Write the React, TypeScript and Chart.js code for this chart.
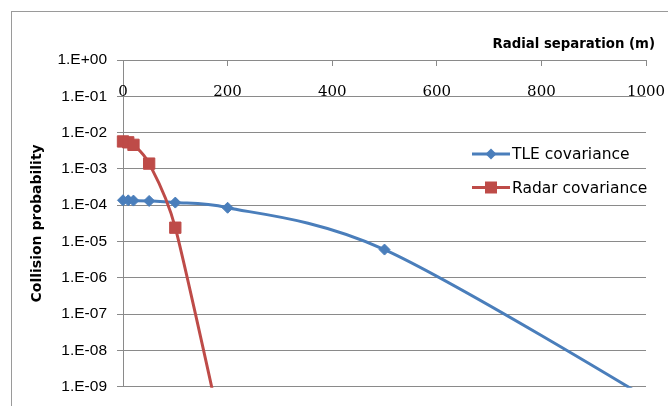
import React, { useEffect, useRef } from 'react';
import { Chart, registerables } from 'chart.js';

Chart.register(...registerables);

// ---- data ----
const tleSeparations = [0, 10, 20, 50, 100, 200, 500, 1000];
const tleProbability = [1.37e-4, 1.36e-4, 1.34e-4, 1.31e-4, 1.18e-4, 8.5e-5, 6.0e-6, 5e-10];
const radarSeparations = [0, 10, 20, 50, 100, 200];
const radarProbability = [5.7e-3, 5.4e-3, 4.6e-3, 1.4e-3, 2.4e-5, 1e-11];

const xTickValues = [0, 200, 400, 600, 800, 1000];
const xTickLabels = ['0', '200', '400', '600', '800', '1000'];
const yTickValues = [1e-9, 1e-8, 1e-7, 1e-6, 1e-5, 1e-4, 1e-3, 1e-2, 1e-1, 1];
const yTickLabels = ['1.E-09', '1.E-08', '1.E-07', '1.E-06', '1.E-05', '1.E-04', '1.E-03', '1.E-02', '1.E-01', '1.E+00'];

const seriesNames = ['TLE covariance', 'Radar covariance'];
const xTitle = 'Radial separation (m)';
const yTitle = 'Collision probability';

// ---- styles ----
const BLUE = '#4A7EBB';
const RED = '#BE4B48';
const GRID = '#8a8a8a';
const FRAME = '#9a9a9a';

// Excel-like smoothing of the line through the points the scales placed
function applyExcelSmoothing(chart: any) {
  chart.data.datasets.forEach((_: any, di: number) => {
    const meta = chart.getDatasetMeta(di);
    const pts = meta.data;
    const n = pts.length;
    for (let i = 0; i < n; i++) {
      const p = pts[i];
      if (i === 0 || i === n - 1) {
        p.cp1x = p.x;
        p.cp1y = p.y;
        p.cp2x = p.x;
        p.cp2y = p.y;
        continue;
      }
      const a = pts[i - 1];
      const b = pts[i + 1];
      const d01 = Math.hypot(p.x - a.x, p.y - a.y);
      const d12 = Math.hypot(b.x - p.x, b.y - p.y);
      const d02 = Math.hypot(b.x - a.x, b.y - a.y);
      let f = 1 / 6;
      if (d02 > 0 && (d02 * f > d01 / 2 || d02 * f > d12 / 2)) {
        f = Math.min(d01, d12) / (2 * d02);
      }
      const dx = (b.x - a.x) * f;
      const dy = (b.y - a.y) * f;
      p.cp1x = p.x - dx;
      p.cp1y = p.y - dy;
      p.cp2x = p.x + dx;
      p.cp2y = p.y + dy;
    }
    if (meta.dataset) {
      meta.dataset._pointsUpdated = true;
      meta.dataset._path = undefined;
      meta.dataset.updateControlPoints = () => {};
    }
  });
}

const decorPlugin = {
  id: 'decor',
  beforeDraw(chart: any) {
    const ctx = chart.ctx;
    ctx.save();
    ctx.fillStyle = '#ffffff';
    ctx.fillRect(0, 0, chart.width, chart.height);
    ctx.strokeStyle = FRAME;
    ctx.lineWidth = 1;
    ctx.strokeRect(11.5, 11.5, chart.width + 20, chart.height + 20);
    ctx.restore();
  },
  beforeDatasetsDraw(chart: any) {
    applyExcelSmoothing(chart);
  },
  afterDraw(chart: any) {
    const ctx = chart.ctx;
    const xs = chart.scales.x;
    ctx.save();
    // x tick labels (inside plot, under the top axis)
    ctx.fillStyle = '#000';
    ctx.font = '15px "DejaVu Serif"';
    ctx.textAlign = 'center';
    ctx.textBaseline = 'alphabetic';
    xTickValues.forEach((v, i) => {
      ctx.fillText(xTickLabels[i], xs.getPixelForValue(v), xs.bottom + 36);
    });

    // x axis title (top right)
    ctx.font = 'bold 13.3px "DejaVu Sans"';
    ctx.textAlign = 'right';
    ctx.fillText(xTitle, xs.right + 9, 48);

    // legend
    const items = [
      { name: seriesNames[0], color: BLUE, style: 'diamond', y: 154 },
      { name: seriesNames[1], color: RED, style: 'square', y: 187.5 },
    ];
    items.forEach((it) => {
      ctx.strokeStyle = it.color;
      ctx.lineWidth = 3;
      ctx.beginPath();
      ctx.moveTo(472, it.y);
      ctx.lineTo(510, it.y);
      ctx.stroke();
      ctx.fillStyle = it.color;
      ctx.beginPath();
      if (it.style === 'diamond') {
        const r = 5.5;
        ctx.moveTo(491, it.y - r);
        ctx.lineTo(491 + r, it.y);
        ctx.lineTo(491, it.y + r);
        ctx.lineTo(491 - r, it.y);
        ctx.closePath();
      } else {
        ctx.rect(485, it.y - 6, 12, 12);
      }
      ctx.fill();
      ctx.fillStyle = '#000';
      ctx.font = '15.5px "DejaVu Sans"';
      ctx.textAlign = 'left';
      ctx.textBaseline = 'middle';
      ctx.fillText(it.name, 512, it.y + 1);
    });
    ctx.restore();
  },
};

export default function App() {
  const ref = useRef<HTMLCanvasElement | null>(null);

  useEffect(() => {
    if (!ref.current) return;
    const common = {
      borderWidth: 3,
      pointBorderWidth: 1,
      tension: 0.33,
      cubicInterpolationMode: 'default',
      capBezierPoints: false,
      fill: false,
      clip: { left: 12, right: 12, top: 12, bottom: 1 },
    };
    const chart = new Chart(ref.current, {
      type: 'line',
      data: {
        datasets: [
          {
            ...common,
            label: seriesNames[0],
            data: tleSeparations.map((x, i) => ({ x, y: tleProbability[i] })),
            borderColor: BLUE,
            backgroundColor: BLUE,
            pointStyle: 'rectRot',
            pointRadius: 5.5,
            pointBorderColor: BLUE,
            pointBackgroundColor: BLUE,
            order: 2,
          } as any,
          {
            ...common,
            label: seriesNames[1],
            data: radarSeparations.map((x, i) => ({ x, y: radarProbability[i] })),
            borderColor: RED,
            backgroundColor: RED,
            pointStyle: 'rect',
            pointRadius: 8,
            pointBorderColor: RED,
            pointBackgroundColor: RED,
            order: 1,
          } as any,
        ],
      },
      options: {
        animation: false,
        responsive: false,
        devicePixelRatio: 1,
        layout: { padding: { left: 0, top: 0, right: 22, bottom: 12 } },
        plugins: {
          legend: { display: false },
          tooltip: { enabled: false },
          title: { display: false },
        },
        scales: {
          x: {
            type: 'linear',
            position: 'top',
            min: 0,
            max: 1000,
            afterBuildTicks: (s: any) => {
              s.ticks = xTickValues.map((v) => ({ value: v }));
            },
            afterFit: (s: any) => {
              s.height = 60;
            },
            ticks: { display: false },
            grid: {
              drawOnChartArea: false,
              drawTicks: true,
              tickLength: -6,
              color: GRID,
              lineWidth: 1,
            },
            border: { display: true, color: GRID, width: 1 },
            title: { display: false },
          } as any,
          y: {
            type: 'logarithmic',
            position: 'left',
            min: 1e-9,
            max: 1,
            afterBuildTicks: (s: any) => {
              s.ticks = yTickValues.map((v) => ({ value: v }));
            },
            afterFit: (s: any) => {
              s.width = 123;
            },
            ticks: {
              autoSkip: false,
              padding: 10,
              color: '#000',
              font: { family: 'Liberation Sans', size: 15.5 },
              callback: (v: any) => {
                const i = yTickValues.findIndex(
                  (t) => Math.abs(Math.log10(t) - Math.log10(Number(v))) < 1e-6
                );
                return i >= 0 ? yTickLabels[i] : '';
              },
            },
            grid: {
              drawTicks: true,
              tickLength: 6,
              color: GRID,
              lineWidth: 1,
            },
            border: { display: true, color: GRID, width: 1 },
            title: {
              display: true,
              text: yTitle,
              color: '#000',
              font: { family: 'DejaVu Sans', size: 14, weight: 'bold' },
              padding: { top: 28.6, bottom: 0 },
            },
          } as any,
        },
      },
      plugins: [decorPlugin],
    });
    return () => chart.destroy();
  }, []);

  return (
    <div style={{ position: 'fixed', left: 0, top: 0, width: 668, height: 406, background: '#fff' }}>
      <canvas ref={ref} width={668} height={406} style={{ display: 'block', width: 668, height: 406 }} />
    </div>
  );
}
